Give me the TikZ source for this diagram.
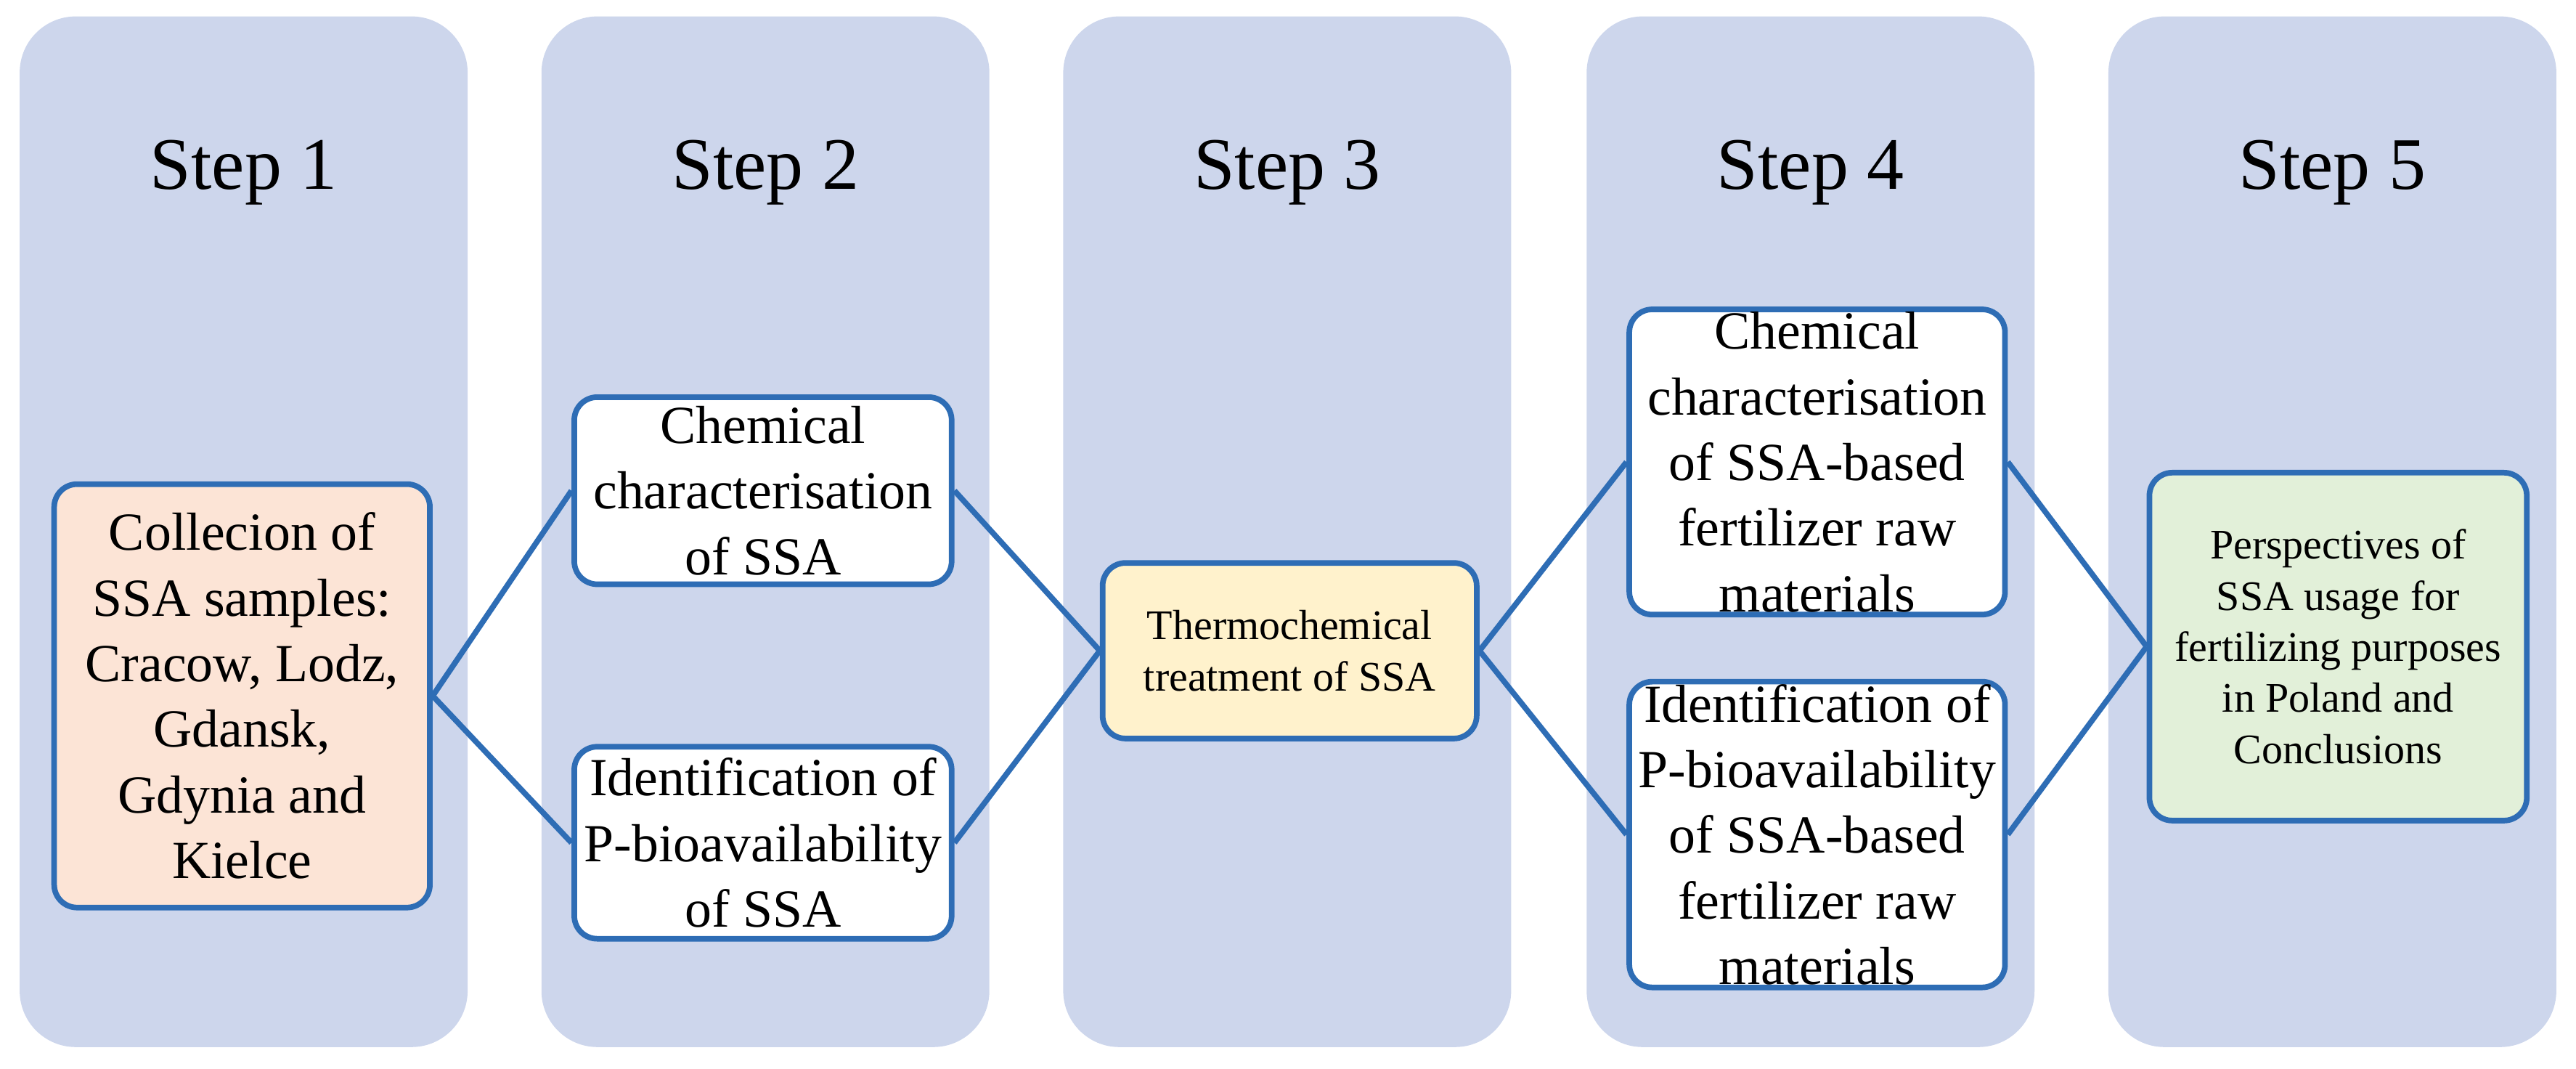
\documentclass[tikz,border=0pt]{standalone}
\usepackage{fontspec}
\setmainfont{Liberation Serif}
\begin{document}
\begin{tikzpicture}[x=0.0226cm,y=-0.0226cm,
 box/.style={draw=lblue,line width=2.2pt,rounded corners=9pt,align=center,inner sep=1pt},
 big/.style={font=\fontsize{21}{25.7}\selectfont},
 small/.style={font=\fontsize{16.5}{20}\selectfont},
 steplbl/.style={font=\fontsize{29}{35}\selectfont},
 ln/.style={draw=lblue,line width=2.2pt}]
\definecolor{colbg}{HTML}{CDD6EC}
\definecolor{lblue}{HTML}{2E6DB5}
\definecolor{peach}{HTML}{FCE4D6}
\definecolor{yel}{HTML}{FFF2CC}
\definecolor{grn}{HTML}{E2F0D9}
\useasboundingbox (0,0) rectangle (1570,651);
\foreach \x/\n in {12/1,330/2,648/3,967/4,1285/5}{
 \fill[colbg,rounded corners=22pt] (\x,10) rectangle ++(273,628);
 \node[steplbl] (s\n) at (\x+136.5,105) {Step \n};}
\node[box,big,fill=peach,minimum width=229*0.0226cm,minimum height=258*0.0226cm] (a) at (147.5,424) {Collecion of\\SSA samples:\\Cracow, Lodz,\\Gdansk,\\Gdynia and\\Kielce};
\node[box,big,fill=white,minimum width=230*0.0226cm,minimum height=114*0.0226cm] (b1) at (465,299) {Chemical\\characterisation\\of SSA};
\node[box,big,fill=white,minimum width=230*0.0226cm,minimum height=117*0.0226cm] (b2) at (465,513.5) {Identification of\\P-bioavailability\\of SSA};
\node[box,small,fill=yel,minimum width=228*0.0226cm,minimum height=107*0.0226cm] (c) at (786,396.5) {Thermochemical\\treatment of SSA};
\node[box,big,fill=white,minimum width=229*0.0226cm,minimum height=169*0.0226cm] (d1) at (1107.5,281.5) {Chemical\\characterisation\\of SSA-based\\fertilizer raw\\materials};
\node[box,big,fill=white,minimum width=229*0.0226cm,minimum height=167*0.0226cm] (d2) at (1107.5,508.5) {Identification of\\P-bioavailability\\of SSA-based\\fertilizer raw\\materials};
\node[box,small,fill=grn,minimum width=230*0.0226cm,minimum height=212*0.0226cm] (e) at (1425,394) {Perspectives of\\SSA usage for\\fertilizing purposes\\in Poland and\\Conclusions};
\draw[ln] (a.east) -- (b1.west); \draw[ln] (a.east) -- (b2.west);
\draw[ln] (b1.east) -- (c.west); \draw[ln] (b2.east) -- (c.west);
\draw[ln] (c.east) -- (d1.west); \draw[ln] (c.east) -- (d2.west);
\draw[ln] (d1.east) -- (e.west); \draw[ln] (d2.east) -- (e.west);
\end{tikzpicture}
\end{document}
